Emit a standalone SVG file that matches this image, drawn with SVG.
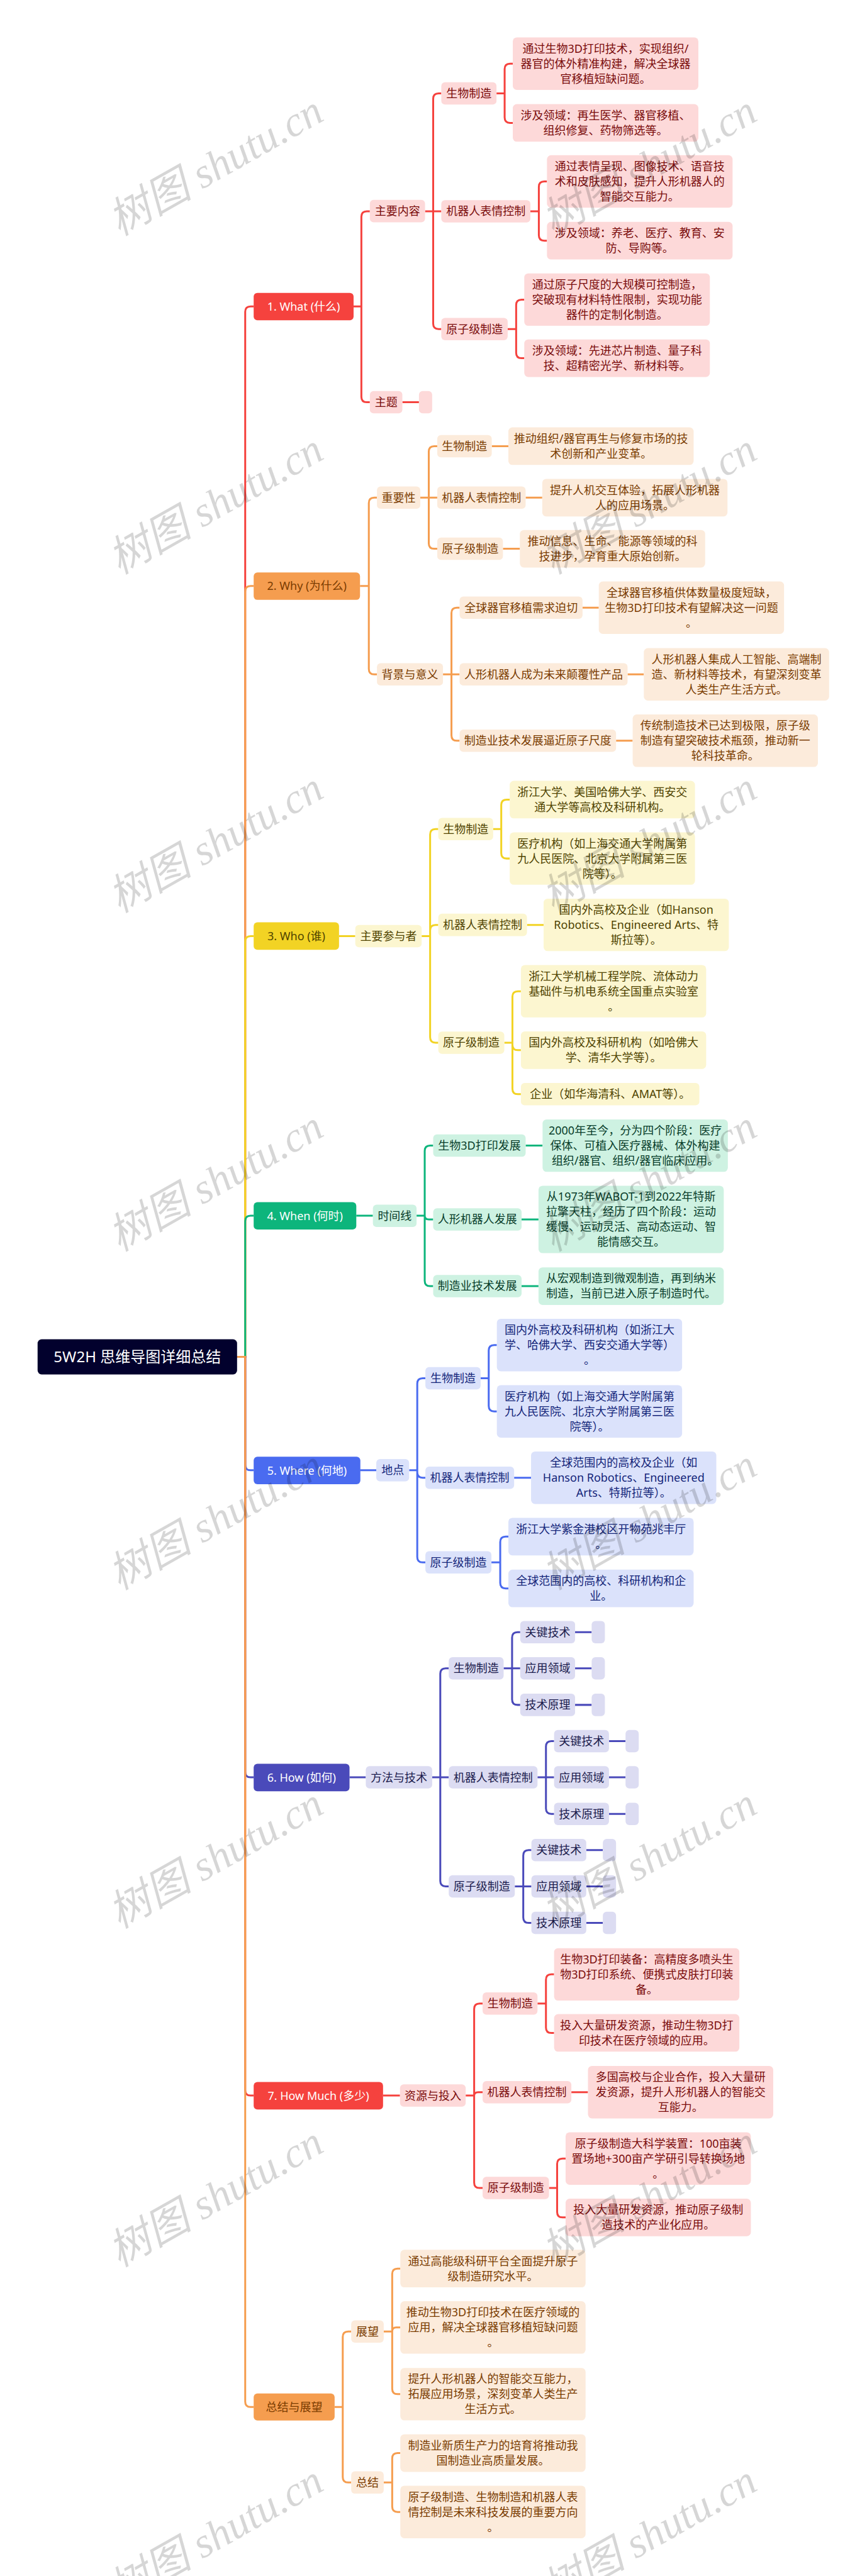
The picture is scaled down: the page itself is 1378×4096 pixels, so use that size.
<svg xmlns="http://www.w3.org/2000/svg" width="1378" height="4096" viewBox="0 0 1378 4096">
<style>
text{font-family:"Noto Sans","Noto Sans CJK SC",sans-serif;font-size:33.44px;text-anchor:middle}
.c{fill:none;stroke-width:5.6}
.cr{stroke:#F5423E}.co{stroke:#F59D4F}.cy{stroke:#F2D324}.cg{stroke:#0DB57C}.cb{stroke:#4A6BF0}.ci{stroke:#4A4ABA}
.fr{fill:#FDD9D9}.fo{fill:#FCEBDB}.fy{fill:#FCF6D0}.fg{fill:#CEF2E2}.fb{fill:#DBE2FB}.fi{fill:#DCDCF2}
.tr{fill:#7A0B0B}.to{fill:#7A3B00}.ty{fill:#4F4300}.tg{fill:#083D2A}.tb{fill:#13257A}.ti{fill:#1B1B4D}
.w{fill:#fff}
.wm{font-family:"Liberation Serif","Noto Sans CJK SC",serif;font-style:italic;font-size:125px;fill:#000;fill-opacity:.16;text-anchor:start}
</style>
<rect width="1378" height="4096" fill="#fff"/>
<g transform="scale(0.5383)">
<g id="connectors">
<path class="c cr" d="M700 4008H724V921Q724 905 740 905H749"/>
<path class="c co" d="M700 4008H724V1747Q724 1731 740 1731H749"/>
<path class="c cy" d="M700 4008H724V2781Q724 2765 740 2765H749"/>
<path class="c cg" d="M700 4008H724V3607Q724 3591 740 3591H749"/>
<path class="c cb" d="M700 4008H724V4327Q724 4343 740 4343H749"/>
<path class="c ci" d="M700 4008H724V5234Q724 5250 740 5250H749"/>
<path class="c cr" d="M700 4008H724V6174Q724 6190 740 6190H749"/>
<path class="c co" d="M700 4008H724V7094Q724 7110 740 7110H749"/>
<path class="c cr" d="M1044 905H1067V640Q1067 624 1083 624H1092M1067 905V1172Q1067 1188 1083 1188H1092M1255 624H1303M1279 624V292Q1279 276 1295 276H1303M1279 624V956Q1279 972 1295 972H1303M1188 1188H1237M1466 276H1490V204Q1490 188 1506 188H1514M1490 276V347Q1490 363 1506 363H1514M1566 624H1591V552Q1591 536 1607 536H1615M1591 624V695Q1591 711 1607 711H1615M1499 972H1524V901Q1524 885 1540 885H1548M1524 972V1042Q1524 1058 1540 1058H1548"/>
<path class="c co" d="M1063 1731H1089V1486Q1089 1470 1105 1470H1113M1089 1731V1976Q1089 1992 1105 1992H1113M1241 1470H1291M1266 1470V1334Q1266 1318 1282 1318H1291M1266 1470V1605Q1266 1621 1282 1621H1291M1452 1318H1501M1552 1470H1601M1485 1621H1535M1308 1992H1357M1333 1992V1811Q1333 1795 1349 1795H1357M1333 1992V2172Q1333 2188 1349 2188H1357M1720 1795H1768M1853 1992H1901M1819 2188H1868"/>
<path class="c cy" d="M1001 2765H1049M1245 2765H1270V2465Q1270 2449 1286 2449H1294M1270 2765V2748Q1270 2732 1286 2732H1294M1270 2765V3064Q1270 3080 1286 3080H1294M1456 2449H1480V2378Q1480 2362 1496 2362H1505M1480 2449V2520Q1480 2536 1496 2536H1505M1556 2732H1605M1489 3080H1513V2944Q1513 2928 1529 2928H1538M1513 3080V3086Q1513 3102 1529 3102H1538M1513 3080V3216Q1513 3232 1529 3232H1538"/>
<path class="c cg" d="M1052 3591H1101M1230 3591H1254V3400Q1254 3384 1270 3384H1279M1254 3591Q1254 3602 1266 3602H1279M1254 3591V3783Q1254 3799 1270 3799H1279M1552 3384H1602M1540 3602H1590M1540 3799H1590"/>
<path class="c cb" d="M1063 4343H1111M1208 4343H1232V4087Q1232 4071 1248 4071H1256M1232 4343V4349Q1232 4365 1248 4365H1256M1232 4343V4599Q1232 4615 1248 4615H1256M1419 4071H1443V3989Q1443 3973 1459 3973H1467M1443 4071V4153Q1443 4169 1459 4169H1467M1518 4365H1568M1451 4615H1477V4555Q1477 4539 1493 4539H1501M1477 4615V4676Q1477 4692 1493 4692H1501"/>
<path class="c ci" d="M1032 5250H1080M1276 5250H1325M1300 5250V4944Q1300 4928 1316 4928H1325M1300 5250V5556Q1300 5572 1316 5572H1325M1487 4928H1536M1512 4928V4837Q1512 4821 1528 4821H1536M1512 4928V5020Q1512 5036 1528 5036H1536M1698 4821H1747M1698 4928H1747M1698 5036H1747M1587 5250H1636M1612 5250V5159Q1612 5143 1628 5143H1636M1612 5250V5342Q1612 5358 1628 5358H1636M1798 5143H1847M1798 5250H1847M1798 5358H1847M1520 5572H1569M1545 5572V5481Q1545 5465 1561 5465H1569M1545 5572V5664Q1545 5680 1561 5680H1569M1731 5465H1780M1731 5572H1780M1731 5680H1780"/>
<path class="c cr" d="M1131 6190H1181M1375 6190H1400V5934Q1400 5918 1416 5918H1425M1400 6190Q1400 6180 1412 6180H1425M1400 6190V6447Q1400 6463 1416 6463H1425M1587 5918H1612V5848Q1612 5832 1628 5832H1636M1612 5918V5989Q1612 6005 1628 6005H1636M1687 6180H1736M1621 6463H1645V6392Q1645 6376 1661 6376H1670M1645 6463V6534Q1645 6550 1661 6550H1670"/>
<path class="c co" d="M988 7110H1012V6903Q1012 6887 1028 6887H1037M1012 7110V7317Q1012 7333 1028 7333H1037M1133 6887H1158V6717Q1158 6701 1174 6701H1182M1158 6887Q1158 6875 1170 6875H1182M1158 6887V7056Q1158 7072 1174 7072H1182M1133 7333H1158V7262Q1158 7246 1174 7246H1182M1158 7333V7404Q1158 7420 1174 7420H1182"/>
</g>
<g id="root"><rect x="111" y="3956" width="589" height="104" rx="12" fill="#02012D"/><text class="w" x="405.5" y="4024" style="font-size:44.6px">5W2H 思维导图详细总结</text></g>

<g id="what"><rect x="749" y="865" width="295" height="81" rx="11" fill="#F5423E"/><text class="w" x="896.5" y="917">1. What (什么)</text></g>
<g id="what-a"><rect class="fr" x="1092" y="590.5" width="163" height="66" rx="11"/><text class="tr" x="1173.5" y="636">主要内容</text></g>
<g id="what-b"><rect class="fr" x="1092" y="1155" width="96" height="66" rx="11"/><text class="tr" x="1140" y="1200">主题</text></g>
<g id="what-b1"><rect class="fr" x="1237" y="1155" width="39" height="66" rx="11"/></g>
<g id="what-a1"><rect class="fr" x="1303" y="243" width="163" height="66" rx="11"/><text class="tr" x="1384.5" y="288">生物制造</text></g>
<g id="what-a2"><rect class="fr" x="1303" y="591" width="263" height="66" rx="11"/><text class="tr" x="1434.5" y="636">机器人表情控制</text></g>
<g id="what-a3"><rect class="fr" x="1303" y="939" width="196" height="66" rx="11"/><text class="tr" x="1401" y="984">原子级制造</text></g>
<g id="what-l1"><rect class="fr" x="1514" y="110.5" width="548" height="155" rx="12"/><text class="tr" y="155.5"><tspan x="1788">通过生物3D打印技术，实现组织/</tspan><tspan x="1788" dy="44.5">器官的体外精准构建，解决全球器</tspan><tspan x="1788" dy="44.5">官移植短缺问题。</tspan></text></g>
<g id="what-l2"><rect class="fr" x="1514" y="307.5" width="548" height="111" rx="12"/><text class="tr" y="352.75"><tspan x="1788">涉及领域：再生医学、器官移植、</tspan><tspan x="1788" dy="44.5">组织修复、药物筛选等。</tspan></text></g>
<g id="what-l3"><rect class="fr" x="1615" y="458.5" width="548" height="155" rx="12"/><text class="tr" y="503.5"><tspan x="1889">通过表情呈现、图像技术、语音技</tspan><tspan x="1889" dy="44.5">术和皮肤感知，提升人形机器人的</tspan><tspan x="1889" dy="44.5">智能交互能力。</tspan></text></g>
<g id="what-l4"><rect class="fr" x="1615" y="655.5" width="548" height="111" rx="12"/><text class="tr" y="700.75"><tspan x="1889">涉及领域：养老、医疗、教育、安</tspan><tspan x="1889" dy="44.5">防、导购等。</tspan></text></g>
<g id="what-l5"><rect class="fr" x="1548" y="807.5" width="548" height="155" rx="12"/><text class="tr" y="852.5"><tspan x="1822">通过原子尺度的大规模可控制造，</tspan><tspan x="1822" dy="44.5">突破现有材料特性限制，实现功能</tspan><tspan x="1822" dy="44.5">器件的定制化制造。</tspan></text></g>
<g id="what-l6"><rect class="fr" x="1548" y="1002.5" width="548" height="111" rx="12"/><text class="tr" y="1047.75"><tspan x="1822">涉及领域：先进芯片制造、量子科</tspan><tspan x="1822" dy="44.5">技、超精密光学、新材料等。</tspan></text></g>

<g id="why"><rect x="749" y="1691" width="314" height="81" rx="11" fill="#F59D4F"/><text class="to" x="906" y="1743">2. Why (为什么)</text></g>
<g id="why-a"><rect class="fo" x="1113" y="1437" width="128" height="66" rx="11"/><text class="to" x="1177" y="1482">重要性</text></g>
<g id="why-b"><rect class="fo" x="1113" y="1959" width="195" height="66" rx="11"/><text class="to" x="1210.5" y="2004">背景与意义</text></g>
<g id="why-a1"><rect class="fo" x="1291" y="1285" width="161" height="66" rx="11"/><text class="to" x="1371.5" y="1330">生物制造</text></g>
<g id="why-a2"><rect class="fo" x="1291" y="1437" width="261" height="66" rx="11"/><text class="to" x="1421.5" y="1482">机器人表情控制</text></g>
<g id="why-a3"><rect class="fo" x="1291" y="1588" width="194" height="66" rx="11"/><text class="to" x="1388" y="1633">原子级制造</text></g>
<g id="why-l1"><rect class="fo" x="1501" y="1262.5" width="547" height="111" rx="12"/><text class="to" y="1307.75"><tspan x="1774.5">推动组织/器官再生与修复市场的技</tspan><tspan x="1774.5" dy="44.5">术创新和产业变革。</tspan></text></g>
<g id="why-l2"><rect class="fo" x="1601" y="1414.5" width="547" height="111" rx="12"/><text class="to" y="1459.75"><tspan x="1874.5">提升人机交互体验，拓展人形机器</tspan><tspan x="1874.5" dy="44.5">人的应用场景。</tspan></text></g>
<g id="why-l3"><rect class="fo" x="1535" y="1565.5" width="547" height="111" rx="12"/><text class="to" y="1610.75"><tspan x="1808.5">推动信息、生命、能源等领域的科</tspan><tspan x="1808.5" dy="44.5">技进步，孕育重大原始创新。</tspan></text></g>
<g id="why-b1"><rect class="fo" x="1357" y="1762" width="363" height="66" rx="11"/><text class="to" x="1538.5" y="1807">全球器官移植需求迫切</text></g>
<g id="why-b2"><rect class="fo" x="1357" y="1959" width="496" height="66" rx="11"/><text class="to" x="1605" y="2004">人形机器人成为未来颠覆性产品</text></g>
<g id="why-b3"><rect class="fo" x="1357" y="2155" width="462" height="66" rx="11"/><text class="to" x="1588" y="2200">制造业技术发展逼近原子尺度</text></g>
<g id="why-l4"><rect class="fo" x="1768" y="1717.5" width="547" height="155" rx="12"/><text class="to" y="1762.5"><tspan x="2041.5">全球器官移植供体数量极度短缺，</tspan><tspan x="2041.5" dy="44.5">生物3D打印技术有望解决这一问题</tspan><tspan x="2041.5" dy="44.5">。</tspan></text></g>
<g id="why-l5"><rect class="fo" x="1901" y="1914.5" width="547" height="155" rx="12"/><text class="to" y="1959.5"><tspan x="2174.5">人形机器人集成人工智能、高端制</tspan><tspan x="2174.5" dy="44.5">造、新材料等技术，有望深刻变革</tspan><tspan x="2174.5" dy="44.5">人类生产生活方式。</tspan></text></g>
<g id="why-l6"><rect class="fo" x="1868" y="2110.5" width="547" height="155" rx="12"/><text class="to" y="2155.5"><tspan x="2141.5">传统制造技术已达到极限，原子级</tspan><tspan x="2141.5" dy="44.5">制造有望突破技术瓶颈，推动新一</tspan><tspan x="2141.5" dy="44.5">轮科技革命。</tspan></text></g>

<g id="who"><rect x="749" y="2724.5" width="252" height="81" rx="11" fill="#F2D324"/><text class="ty" x="875" y="2777">3. Who (谁)</text></g>
<g id="who-a"><rect class="fy" x="1049" y="2732" width="196" height="66" rx="11"/><text class="ty" x="1147" y="2777">主要参与者</text></g>
<g id="who-a1"><rect class="fy" x="1294" y="2416" width="162" height="66" rx="11"/><text class="ty" x="1375" y="2461">生物制造</text></g>
<g id="who-a2"><rect class="fy" x="1294" y="2699" width="262" height="66" rx="11"/><text class="ty" x="1425" y="2744">机器人表情控制</text></g>
<g id="who-a3"><rect class="fy" x="1294" y="3047" width="195" height="66" rx="11"/><text class="ty" x="1391.5" y="3092">原子级制造</text></g>
<g id="who-l1"><rect class="fy" x="1505" y="2306.5" width="547" height="111" rx="12"/><text class="ty" y="2351.75"><tspan x="1778.5">浙江大学、美国哈佛大学、西安交</tspan><tspan x="1778.5" dy="44.5">通大学等高校及科研机构。</tspan></text></g>
<g id="who-l2"><rect class="fy" x="1505" y="2458.5" width="547" height="155" rx="12"/><text class="ty" y="2503.5"><tspan x="1778.5">医疗机构（如上海交通大学附属第</tspan><tspan x="1778.5" dy="44.5">九人民医院、北京大学附属第三医</tspan><tspan x="1778.5" dy="44.5">院等）。</tspan></text></g>
<g id="who-l3"><rect class="fy" x="1605" y="2654.5" width="547" height="155" rx="12"/><text class="ty" y="2699.5"><tspan x="1878.5">国内外高校及企业（如Hanson</tspan><tspan x="1878.5" dy="44.5">Robotics、Engineered Arts、特</tspan><tspan x="1878.5" dy="44.5">斯拉等）。</tspan></text></g>
<g id="who-l4"><rect class="fy" x="1538" y="2850.5" width="547" height="155" rx="12"/><text class="ty" y="2895.5"><tspan x="1811.5">浙江大学机械工程学院、流体动力</tspan><tspan x="1811.5" dy="44.5">基础件与机电系统全国重点实验室</tspan><tspan x="1811.5" dy="44.5">。</tspan></text></g>
<g id="who-l5"><rect class="fy" x="1538" y="3046.5" width="547" height="111" rx="12"/><text class="ty" y="3091.75"><tspan x="1811.5">国内外高校及科研机构（如哈佛大</tspan><tspan x="1811.5" dy="44.5">学、清华大学等）。</tspan></text></g>
<g id="who-l6"><rect class="fy" x="1538" y="3199" width="527" height="66" rx="11"/><text class="ty" x="1801.5" y="3244">企业（如华海清科、AMAT等）。</text></g>

<g id="when"><rect x="749" y="3551" width="303" height="81" rx="11" fill="#0DB57C"/><text class="w" x="900.5" y="3603.5">4. When (何时)</text></g>
<g id="when-a"><rect class="fg" x="1101" y="3558.5" width="129" height="66" rx="11"/><text class="tg" x="1165.5" y="3603.5">时间线</text></g>
<g id="when-a1"><rect class="fg" x="1279" y="3351" width="273" height="66" rx="11"/><text class="tg" x="1415.5" y="3396">生物3D打印发展</text></g>
<g id="when-a2"><rect class="fg" x="1279" y="3569" width="261" height="66" rx="11"/><text class="tg" x="1409.5" y="3614">人形机器人发展</text></g>
<g id="when-a3"><rect class="fg" x="1279" y="3766" width="261" height="66" rx="11"/><text class="tg" x="1409.5" y="3811">制造业技术发展</text></g>
<g id="when-l1"><rect class="fg" x="1602" y="3306.5" width="547" height="155" rx="12"/><text class="tg" y="3351.5"><tspan x="1875.5">2000年至今，分为四个阶段：医疗</tspan><tspan x="1875.5" dy="44.5">保体、可植入医疗器械、体外构建</tspan><tspan x="1875.5" dy="44.5">组织/器官、组织/器官临床应用。</tspan></text></g>
<g id="when-l2"><rect class="fg" x="1590" y="3502.5" width="547" height="199" rx="12"/><text class="tg" y="3547.25"><tspan x="1863.5">从1973年WABOT-1到2022年特斯</tspan><tspan x="1863.5" dy="44.5">拉擎天柱，经历了四个阶段：运动</tspan><tspan x="1863.5" dy="44.5">缓慢、运动灵活、高动态运动、智</tspan><tspan x="1863.5" dy="44.5">能情感交互。</tspan></text></g>
<g id="when-l3"><rect class="fg" x="1590" y="3743.5" width="547" height="111" rx="12"/><text class="tg" y="3788.75"><tspan x="1863.5">从宏观制造到微观制造，再到纳米</tspan><tspan x="1863.5" dy="44.5">制造，当前已进入原子制造时代。</tspan></text></g>

<g id="where"><rect x="749" y="4303" width="315" height="81" rx="11" fill="#4A6BF0"/><text class="w" x="906.5" y="4355.5">5. Where (何地)</text></g>
<g id="where-a"><rect class="fb" x="1111" y="4310" width="97" height="66" rx="11"/><text class="tb" x="1159.5" y="4355">地点</text></g>
<g id="where-a1"><rect class="fb" x="1256" y="4038" width="163" height="66" rx="11"/><text class="tb" x="1337.5" y="4083">生物制造</text></g>
<g id="where-a2"><rect class="fb" x="1256" y="4332" width="262" height="66" rx="11"/><text class="tb" x="1387" y="4377">机器人表情控制</text></g>
<g id="where-a3"><rect class="fb" x="1256" y="4582" width="195" height="66" rx="11"/><text class="tb" x="1353.5" y="4627">原子级制造</text></g>
<g id="where-l1"><rect class="fb" x="1467" y="3895.5" width="547" height="155" rx="12"/><text class="tb" y="3940.5"><tspan x="1740.5">国内外高校及科研机构（如浙江大</tspan><tspan x="1740.5" dy="44.5">学、哈佛大学、西安交通大学等）</tspan><tspan x="1740.5" dy="44.5">。</tspan></text></g>
<g id="where-l2"><rect class="fb" x="1467" y="4091.5" width="547" height="155" rx="12"/><text class="tb" y="4136.5"><tspan x="1740.5">医疗机构（如上海交通大学附属第</tspan><tspan x="1740.5" dy="44.5">九人民医院、北京大学附属第三医</tspan><tspan x="1740.5" dy="44.5">院等）。</tspan></text></g>
<g id="where-l3"><rect class="fb" x="1568" y="4287.5" width="547" height="155" rx="12"/><text class="tb" y="4332.5"><tspan x="1841.5">全球范围内的高校及企业（如</tspan><tspan x="1841.5" dy="44.5">Hanson Robotics、Engineered</tspan><tspan x="1841.5" dy="44.5">Arts、特斯拉等）。</tspan></text></g>
<g id="where-l4"><rect class="fb" x="1501" y="4483.5" width="547" height="111" rx="12"/><text class="tb" y="4528.75"><tspan x="1774.5">浙江大学紫金港校区开物苑兆丰厅</tspan><tspan x="1774.5" dy="44.5">。</tspan></text></g>
<g id="where-l5"><rect class="fb" x="1501" y="4636.5" width="547" height="111" rx="12"/><text class="tb" y="4681.75"><tspan x="1774.5">全球范围内的高校、科研机构和企</tspan><tspan x="1774.5" dy="44.5">业。</tspan></text></g>

<g id="how"><rect x="749" y="5210" width="283" height="81" rx="11" fill="#4A4ABA"/><text class="w" x="890.5" y="5262">6. How (如何)</text></g>
<g id="how-a"><rect class="fi" x="1080" y="5217" width="196" height="66" rx="11"/><text class="ti" x="1178" y="5262">方法与技术</text></g>
<g id="how-a1"><rect class="fi" x="1325" y="4895" width="162" height="66" rx="11"/><text class="ti" x="1406" y="4940">生物制造</text></g>
<g id="how-a2"><rect class="fi" x="1325" y="5217" width="262" height="66" rx="11"/><text class="ti" x="1456" y="5262">机器人表情控制</text></g>
<g id="how-a3"><rect class="fi" x="1325" y="5539" width="195" height="66" rx="11"/><text class="ti" x="1422.5" y="5584">原子级制造</text></g>
<g id="how-n1"><rect class="fi" x="1536" y="4788" width="162" height="66" rx="11"/><text class="ti" x="1617" y="4833">关键技术</text><rect class="fi" x="1747" y="4788" width="39" height="66" rx="11"/></g>
<g id="how-n2"><rect class="fi" x="1536" y="4895" width="162" height="66" rx="11"/><text class="ti" x="1617" y="4940">应用领域</text><rect class="fi" x="1747" y="4895" width="39" height="66" rx="11"/></g>
<g id="how-n3"><rect class="fi" x="1536" y="5003" width="162" height="66" rx="11"/><text class="ti" x="1617" y="5048">技术原理</text><rect class="fi" x="1747" y="5003" width="39" height="66" rx="11"/></g>
<g id="how-n4"><rect class="fi" x="1636" y="5110" width="162" height="66" rx="11"/><text class="ti" x="1717" y="5155">关键技术</text><rect class="fi" x="1847" y="5110" width="39" height="66" rx="11"/></g>
<g id="how-n5"><rect class="fi" x="1636" y="5217" width="162" height="66" rx="11"/><text class="ti" x="1717" y="5262">应用领域</text><rect class="fi" x="1847" y="5217" width="39" height="66" rx="11"/></g>
<g id="how-n6"><rect class="fi" x="1636" y="5325" width="162" height="66" rx="11"/><text class="ti" x="1717" y="5370">技术原理</text><rect class="fi" x="1847" y="5325" width="39" height="66" rx="11"/></g>
<g id="how-n7"><rect class="fi" x="1569" y="5432" width="162" height="66" rx="11"/><text class="ti" x="1650" y="5477">关键技术</text><rect class="fi" x="1780" y="5432" width="39" height="66" rx="11"/></g>
<g id="how-n8"><rect class="fi" x="1569" y="5539" width="162" height="66" rx="11"/><text class="ti" x="1650" y="5584">应用领域</text><rect class="fi" x="1780" y="5539" width="39" height="66" rx="11"/></g>
<g id="how-n9"><rect class="fi" x="1569" y="5647" width="162" height="66" rx="11"/><text class="ti" x="1650" y="5692">技术原理</text><rect class="fi" x="1780" y="5647" width="39" height="66" rx="11"/></g>

<g id="much"><rect x="749" y="6150" width="382" height="81" rx="11" fill="#F5423E"/><text class="w" x="940" y="6202">7. How Much (多少)</text></g>
<g id="much-a"><rect class="fr" x="1181" y="6157" width="194" height="66" rx="11"/><text class="tr" x="1278" y="6202">资源与投入</text></g>
<g id="much-a1"><rect class="fr" x="1425" y="5885" width="162" height="66" rx="11"/><text class="tr" x="1506" y="5930">生物制造</text></g>
<g id="much-a2"><rect class="fr" x="1425" y="6147" width="262" height="66" rx="11"/><text class="tr" x="1556" y="6192">机器人表情控制</text></g>
<g id="much-a3"><rect class="fr" x="1425" y="6430" width="196" height="66" rx="11"/><text class="tr" x="1523" y="6475">原子级制造</text></g>
<g id="much-l1"><rect class="fr" x="1636" y="5754.5" width="547" height="155" rx="12"/><text class="tr" y="5799.5"><tspan x="1909.5">生物3D打印装备：高精度多喷头生</tspan><tspan x="1909.5" dy="44.5">物3D打印系统、便携式皮肤打印装</tspan><tspan x="1909.5" dy="44.5">备。</tspan></text></g>
<g id="much-l2"><rect class="fr" x="1636" y="5949.5" width="547" height="111" rx="12"/><text class="tr" y="5994.75"><tspan x="1909.5">投入大量研发资源，推动生物3D打</tspan><tspan x="1909.5" dy="44.5">印技术在医疗领域的应用。</tspan></text></g>
<g id="much-l3"><rect class="fr" x="1736" y="6102.5" width="547" height="155" rx="12"/><text class="tr" y="6147.5"><tspan x="2009.5">多国高校与企业合作，投入大量研</tspan><tspan x="2009.5" dy="44.5">发资源，提升人形机器人的智能交</tspan><tspan x="2009.5" dy="44.5">互能力。</tspan></text></g>
<g id="much-l4"><rect class="fr" x="1670" y="6298.5" width="547" height="155" rx="12"/><text class="tr" y="6343.5"><tspan x="1943.5">原子级制造大科学装置：100亩装</tspan><tspan x="1943.5" dy="44.5">置场地+300亩产学研引导转换场地</tspan><tspan x="1943.5" dy="44.5">。</tspan></text></g>
<g id="much-l5"><rect class="fr" x="1670" y="6494.5" width="547" height="111" rx="12"/><text class="tr" y="6539.75"><tspan x="1943.5">投入大量研发资源，推动原子级制</tspan><tspan x="1943.5" dy="44.5">造技术的产业化应用。</tspan></text></g>

<g id="sum"><rect x="749" y="7070" width="239" height="80" rx="11" fill="#F59D4F"/><text class="to" x="868.5" y="7122">总结与展望</text></g>
<g id="sum-a"><rect class="fo" x="1037" y="6854" width="96" height="66" rx="11"/><text class="to" x="1085" y="6899">展望</text></g>
<g id="sum-b"><rect class="fo" x="1037" y="7300" width="96" height="66" rx="11"/><text class="to" x="1085" y="7345">总结</text></g>
<g id="sum-l1"><rect class="fo" x="1182" y="6645.5" width="547" height="111" rx="12"/><text class="to" y="6690.75"><tspan x="1455.5">通过高能级科研平台全面提升原子</tspan><tspan x="1455.5" dy="44.5">级制造研究水平。</tspan></text></g>
<g id="sum-l2"><rect class="fo" x="1182" y="6797.5" width="547" height="155" rx="12"/><text class="to" y="6842.5"><tspan x="1455.5">推动生物3D打印技术在医疗领域的</tspan><tspan x="1455.5" dy="44.5">应用，解决全球器官移植短缺问题</tspan><tspan x="1455.5" dy="44.5">。</tspan></text></g>
<g id="sum-l3"><rect class="fo" x="1182" y="6994.5" width="547" height="155" rx="12"/><text class="to" y="7039.5"><tspan x="1455.5">提升人形机器人的智能交互能力，</tspan><tspan x="1455.5" dy="44.5">拓展应用场景，深刻变革人类生产</tspan><tspan x="1455.5" dy="44.5">生活方式。</tspan></text></g>
<g id="sum-l4"><rect class="fo" x="1182" y="7190.5" width="547" height="111" rx="12"/><text class="to" y="7235.75"><tspan x="1455.5">制造业新质生产力的培育将推动我</tspan><tspan x="1455.5" dy="44.5">国制造业高质量发展。</tspan></text></g>
<g id="sum-l5"><rect class="fo" x="1182" y="7342.5" width="547" height="155" rx="12"/><text class="to" y="7387.5"><tspan x="1455.5">原子级制造、生物制造和机器人表</tspan><tspan x="1455.5" dy="44.5">情控制是未来科技发展的重要方向</tspan><tspan x="1455.5" dy="44.5">。</tspan></text></g>

<g id="watermark">
<text class="wm" transform="translate(352,698) rotate(-29.5)">树图 shutu.cn</text>
<text class="wm" transform="translate(1632,698) rotate(-29.5)">树图 shutu.cn</text>
<text class="wm" transform="translate(352,1698) rotate(-29.5)">树图 shutu.cn</text>
<text class="wm" transform="translate(1632,1698) rotate(-29.5)">树图 shutu.cn</text>
<text class="wm" transform="translate(352,2698) rotate(-29.5)">树图 shutu.cn</text>
<text class="wm" transform="translate(1632,2698) rotate(-29.5)">树图 shutu.cn</text>
<text class="wm" transform="translate(352,3698) rotate(-29.5)">树图 shutu.cn</text>
<text class="wm" transform="translate(1632,3698) rotate(-29.5)">树图 shutu.cn</text>
<text class="wm" transform="translate(352,4698) rotate(-29.5)">树图 shutu.cn</text>
<text class="wm" transform="translate(1632,4698) rotate(-29.5)">树图 shutu.cn</text>
<text class="wm" transform="translate(352,5698) rotate(-29.5)">树图 shutu.cn</text>
<text class="wm" transform="translate(1632,5698) rotate(-29.5)">树图 shutu.cn</text>
<text class="wm" transform="translate(352,6698) rotate(-29.5)">树图 shutu.cn</text>
<text class="wm" transform="translate(1632,6698) rotate(-29.5)">树图 shutu.cn</text>
<text class="wm" transform="translate(352,7698) rotate(-29.5)">树图 shutu.cn</text>
<text class="wm" transform="translate(1632,7698) rotate(-29.5)">树图 shutu.cn</text>
</g>
</g>
</svg>
